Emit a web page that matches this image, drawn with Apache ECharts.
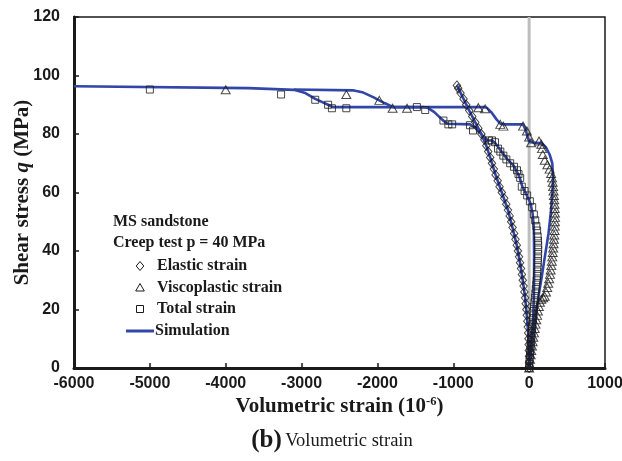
<!DOCTYPE html>
<html>
<head>
<meta charset="utf-8">
<script src="https://cdn.jsdelivr.net/npm/echarts@6/dist/echarts.min.js"></script>
<style>html,body{margin:0;padding:0;background:#fff}#c{width:622px;height:461px}</style>
</head>
<body>
<div id="c"></div>
<script>
// ---- tick settings ----
const xTicks = {min: -6000, max: 1000, interval: 1000};
const yTicks = {min: 0, max: 120, interval: 20};

// ---- measured points: [volumetric strain (1e-6), shear stress q (MPa)] ----
const elasticPts = [
  [0,0],[-1,2],[-2,4],[-4,6],[-6,8],[-9,10],[-13,12],[-18,14],[-24,16],[-31,18],
  [-37,20],[-45,22],[-53,24],[-63,26],[-73,28],[-84,30],[-95,32],[-107,34],[-120,36],
  [-133,38],[-148,40],[-163,42],[-180,44],[-198,46],[-218,48],[-237,50],[-257,52],
  [-279,54],[-302,56],[-328,58],[-360,60],[-390,62],[-415,64],[-442,66],[-465,68],
  [-490,70],[-514,72],[-540,74],[-565,76],[-590,78],[-630,80],[-670,82],[-710,84],
  [-750,86],[-790,88],[-830,90],[-865,92],[-905,94],[-935,95.6],[-952,96.6]
];
const viscoPts = [
  [0,0],[5,1.5],[12,3],[20,4.5],[28,6],[37,7.5],[46,9],[55,10.5],[64,12],[74,13.5],
  [84,15],[94,16.5],[105,18],[116,19.5],[128,21],[142,22.5],[160,23.5],[185,24],
  [205,24.5],[222,26],[238,27.5],[252,29],[264,30.5],[275,32],[284,33.5],[292,35],
  [299,36.5],[305,38],[311,39.5],[317,41],[322,42.5],[327,44],[331,45.5],[335,47],
  [338,48.5],[340,50],[341,51.5],[340,53],[338,54.5],[335,56],[331,57.5],[327,59],
  [322,60.5],[316,62],[310,63.5],[302,65],[290,66.5],[270,68],[240,69.5],[205,71],
  [180,73],[170,75],[160,76.5],[130,77.6],[26,77],[0,79],[-30,81],[-80,82.7],
  [-340,82.7],[-380,83.3],[-580,88.6],[-670,89],[-1610,88.8],[-1800,88.8],
  [-1975,91.5],[-2410,93.5],[-4000,95.1]
];
const totalPts = [
  [0,0],[3,1.5],[7,3],[11,4.5],[15,6],[19,7.5],[24,9],[29,10.5],[34,12],[39,13.5],
  [44,15],[49,16.5],[54,18],[59,19.5],[64,21],[70,22.5],[76,24],[82,25.5],[88,27],
  [94,28.5],[99,30],[104,31.5],[108,33],[111,34.5],[114,36],[116,37.5],[118,39],
  [119,40.5],[119,42],[117,43.5],[112,45],[105,47],[95,48.5],[80,50.5],[62,52.5],
  [40,55],[10,57],[-26,59],[-60,60.5],[-97,62],[-118,65],[-140,66.3],[-160,67.6],
  [-200,68.8],[-250,70],[-300,71.3],[-340,72.6],[-380,74],[-410,75],[-450,77.2],
  [-490,77.8],[-530,77.8],[-740,81.2],[-780,83],[-1015,83.3],[-1065,83.3],
  [-1130,84.6],[-1370,88.2],[-1480,89.2],[-2410,88.8],[-2600,88.8],[-2650,90],
  [-2820,91.7],[-3270,93.5],[-5000,95.2]
];

// ---- simulation curves ----
const simElastic = [
  [0,0],[-4,6],[-13,12],[-31,18],[-53,24],[-84,30],[-120,36],[-163,42],[-210,47],
  [-279,54],[-360,60],[-442,66],[-514,72],[-565,76],[-630,80],[-710,84],[-790,88],
  [-865,92],[-952,96.6]
];
const simVisco = [
  [0,0],[15,3],[40,8],[80,16],[120,24],[165,31],[210,38.5],[255,46],[285,53],
  [305,59],[316,65],[305,70],[270,73],[220,75.5],[170,76.8],[145,77.2],[10,77.2],
  [-15,78.5],[-40,81],[-80,83.3],[-340,83.3],[-380,83.5],[-430,85],[-500,87.5],
  [-560,89],[-600,89.2],[-1790,89.2],[-1900,90.5],[-2050,92.5],[-2200,94.3],
  [-2310,94.9],[-3100,95.2]
];
const simTotal = [
  [0,0],[20,6],[40,12],[55,18],[62,24],[65,30],[65,40],[62,48],[45,53],[15,56.5],
  [-30,59],[-90,62],[-130,65.5],[-200,69],[-290,71.5],[-380,74.5],[-450,77],
  [-490,77.8],[-555,77.8],[-600,79],[-700,82],[-780,83.3],[-1080,83.5],[-1150,85],
  [-1250,87.5],[-1340,89],[-1400,89.2],[-2590,89.2],[-2650,90],[-2820,92],
  [-2950,94],[-3100,95.1],[-3700,95.7],[-6000,96.3]
];
const zeroLine = [[0,0],[0,120]];

const legendTitle = ['MS sandstone', 'Creep test p = 40 MPa'];
const legendNames = ['Elastic strain', 'Viscoplastic strain', 'Total strain', 'Simulation'];

const BLUE = '#3246a8';
const INK = '#1a1a1a';
const SERIF = '"Liberation Serif", "Times New Roman", serif';
const SANS = '"Liberation Sans", Arial, sans-serif';

const chart = echarts.init(document.getElementById('c'), null, {renderer: 'canvas'});

function scatter(name, data, symbol, size) {
  return {
    name, type: 'scatter', data, symbol, symbolSize: size, z: 5,
    itemStyle: {color: 'rgba(0,0,0,0)', borderColor: INK, borderWidth: 1},
    emphasis: {disabled: true}, silent: true, animation: false
  };
}
function sim(data) {
  return {
    name: 'Simulation', type: 'line', data, showSymbol: false, symbol: 'none', z: 3,
    lineStyle: {color: BLUE, width: 2.6}, smooth: false, silent: true, animation: false
  };
}

const legendGraphics = [];
const lx = 113;
const titleY = [222, 243];
legendTitle.forEach((t, i) => legendGraphics.push({
  type: 'text', x: lx, y: titleY[i],
  style: {text: t, font: 'bold 16px ' + SERIF, fill: INK, verticalAlign: 'middle'}
}));
const itemY = [266, 287.5, 309, 331];
const mk = 140;
legendGraphics.push({type: 'polygon', shape: {points: [[mk, itemY[0]-4.5],[mk+3.8, itemY[0]],[mk, itemY[0]+4.5],[mk-3.8, itemY[0]]]}, style: {fill: 'none', stroke: INK, lineWidth: 1}});
legendGraphics.push({type: 'polygon', shape: {points: [[mk, itemY[1]-4],[mk+4.3, itemY[1]+3.5],[mk-4.3, itemY[1]+3.5]]}, style: {fill: 'none', stroke: INK, lineWidth: 1}});
legendGraphics.push({type: 'rect', shape: {x: mk-3.5, y: itemY[2]-3.5, width: 7, height: 7}, style: {fill: 'none', stroke: INK, lineWidth: 1}});
legendGraphics.push({type: 'line', shape: {x1: 126, y1: itemY[3], x2: 154, y2: itemY[3]}, style: {stroke: BLUE, lineWidth: 3}});
legendNames.forEach((t, i) => legendGraphics.push({
  type: 'text', x: i === 3 ? 155 : 157, y: itemY[i],
  style: {text: t, font: 'bold 16px ' + SERIF, fill: INK, verticalAlign: 'middle'}
}));
legendGraphics.push({
  type: 'text', x: 332, y: 441,
  style: {
    text: '{b|(b)} {n|Volumetric strain}', align: 'center', verticalAlign: 'middle',
    rich: {
      b: {fontFamily: SERIF, fontWeight: 'bold', fontSize: 25, fill: INK, color: INK},
      n: {fontFamily: SERIF, fontSize: 18.5, fill: INK, color: INK}
    }
  }
});

chart.setOption({
  animation: false,
  backgroundColor: '#fff',
  grid: {left: 74, right: 17, top: 17, bottom: 93, show: true, borderColor: INK, borderWidth: 1.5, containLabel: false, outerBoundsMode: 'none'},
  xAxis: {
    type: 'value', min: xTicks.min, max: xTicks.max, interval: xTicks.interval,
    axisLine: {show: true, onZero: false, lineStyle: {color: INK, width: 3}},
    axisTick: {show: true, inside: true, length: 5, lineStyle: {color: INK, width: 1.5}},
    splitLine: {show: false},
    axisLabel: {fontFamily: SANS, fontWeight: 'bold', fontSize: 16, color: INK, margin: 8, showMinLabel: true, showMaxLabel: true, hideOverlap: false, formatter: v => String(v)},
    name: '{a|Volumetric strain (10}{s|-6}{a|)}', nameLocation: 'middle', nameGap: 27, nameMoveOverlap: false,
    nameTextStyle: {
      rich: {
        a: {fontFamily: SERIF, fontWeight: 'bold', fontSize: 21, color: INK, lineHeight: 24},
        s: {fontFamily: SERIF, fontWeight: 'bold', fontSize: 12.5, color: INK, padding: [0, 0, 10, 0]}
      }
    }
  },
  yAxis: {
    type: 'value', min: yTicks.min, max: yTicks.max, interval: yTicks.interval,
    axisLine: {show: true, onZero: false, lineStyle: {color: INK, width: 3}},
    axisTick: {show: true, inside: true, length: 5, lineStyle: {color: INK, width: 1.5}},
    splitLine: {show: false},
    axisLabel: {fontFamily: SANS, fontWeight: 'bold', fontSize: 16, color: INK, margin: 14, formatter: v => String(v)},
    name: '{a|Shear stress }{q|q}{a| (MPa)}', nameLocation: 'middle', nameGap: 41, nameMoveOverlap: false,
    nameTextStyle: {
      rich: {
        a: {fontFamily: SERIF, fontWeight: 'bold', fontSize: 21, color: INK},
        q: {fontFamily: SERIF, fontWeight: 'bold', fontStyle: 'italic', fontSize: 21, color: INK}
      }
    }
  },
  graphic: legendGraphics,
  series: [
    {type: 'line', data: zeroLine, symbol: 'none', z: 1, lineStyle: {color: '#bdbdbd', width: 3}, silent: true, animation: false},
    sim(simElastic), sim(simVisco), sim(simTotal),
    scatter('Elastic strain', elasticPts, 'diamond', [7.5, 9]),
    scatter('Viscoplastic strain', viscoPts, 'triangle', [9, 8]),
    scatter('Total strain', totalPts, 'rect', [7, 7])
  ]
});
</script>
</body>
</html>
